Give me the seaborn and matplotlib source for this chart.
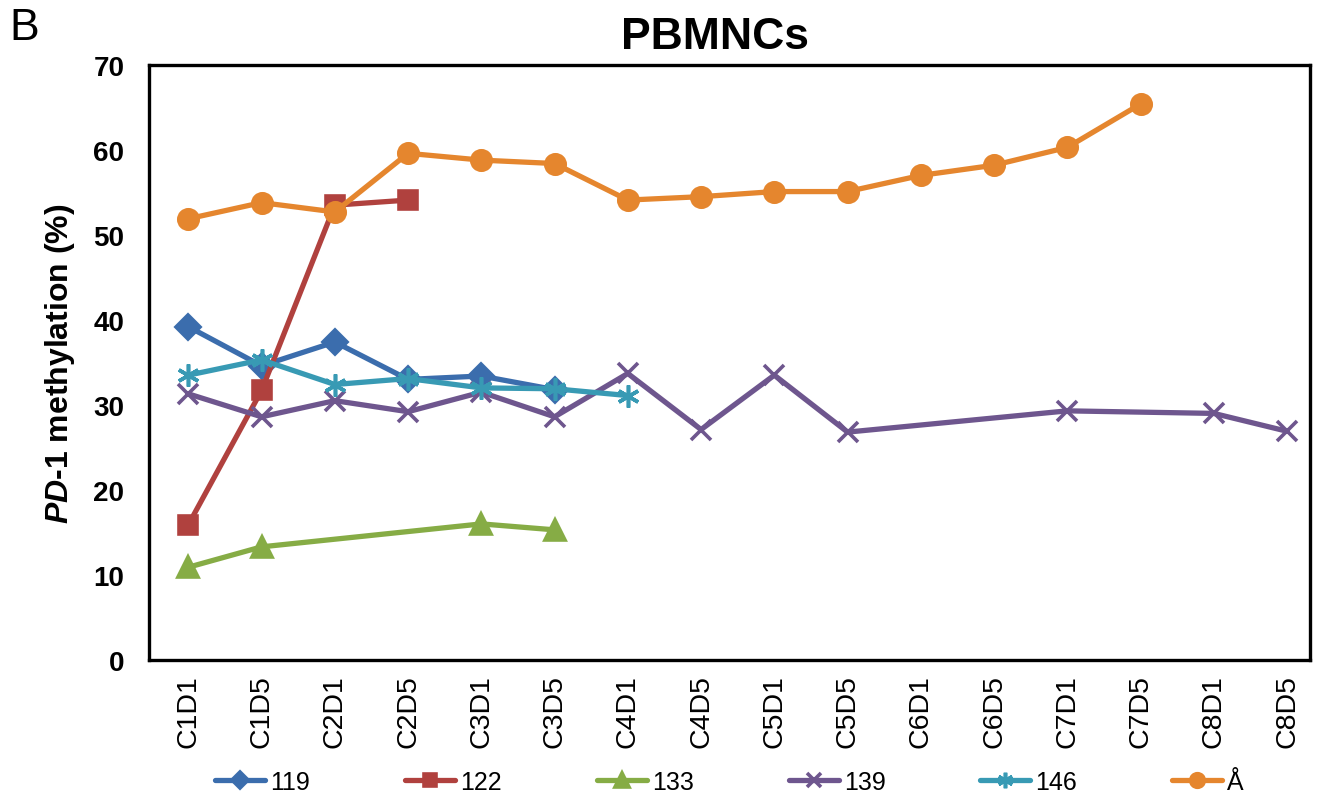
import numpy as np
import pandas as pd
import matplotlib
matplotlib.use('Agg')
import matplotlib.pyplot as plt
import seaborn as sns

cycles = ['C1D1', 'C1D5', 'C2D1', 'C2D5', 'C3D1', 'C3D5', 'C4D1', 'C4D5',
          'C5D1', 'C5D5', 'C6D1', 'C6D5', 'C7D1', 'C7D5', 'C8D1', 'C8D5']
s119 = [39.2, 34.6, 37.4, 33.0, 33.4, 31.8]
s122 = [15.9, 31.7, 53.5, 54.1]
s133 = [10.9, 13.3, None, None, 16.0, 15.3]
s139 = [31.3, 28.6, 30.5, 29.2, 31.5, 28.6, 33.7, 27.1, 33.5, 26.8,
        None, None, 29.3, None, 29.0, 26.9]
s146 = [33.5, 35.3, 32.4, 33.1, 32.0, 31.9, 31.1]
sA = [51.9, 53.8, 52.7, 59.6, 58.8, 58.4, 54.1, 54.5, 55.1, 55.1,
      57.0, 58.2, 60.3, 65.4]

series = {'119': s119, '122': s122, '133': s133, '139': s139, '146': s146, 'Å': sA}
rows = []
for name, vals in series.items():
    for c, v in zip(cycles, vals):
        if v is not None:
            rows.append({'cycle': c, 'value': v, 'patient': name})
df = pd.DataFrame(rows)
df['cycle'] = pd.Categorical(df['cycle'], categories=cycles, ordered=True)
df['pos'] = df['cycle'].cat.codes

palette = {'119': '#3B6DAD', '122': '#B0413E', '133': '#86AC45',
           '139': '#6E568E', '146': '#389AB4', 'Å': '#E5862E'}
markers = {'119': 'D', '122': 's', '133': '^', '139': 'x', '146': (6, 2, 0), 'Å': 'o'}
msizes = {'119': 12, '122': 13, '133': 14, '139': 15, '146': 16, 'Å': 14}

sns.set_style('white')
plt.rcParams['font.family'] = ['Liberation Sans', 'DejaVu Sans']
plt.rcParams['text.color'] = 'black'
plt.rcParams['axes.labelcolor'] = 'black'
plt.rcParams['mathtext.fontset'] = 'custom'
plt.rcParams['mathtext.it'] = 'Liberation Sans:italic:bold'
plt.rcParams['mathtext.rm'] = 'Liberation Sans:bold'

fig = plt.figure(figsize=(13.23, 8.04), dpi=100)
ax = fig.add_axes([0.113, 0.178, 0.877, 0.740])

# one call per patient: filled and line-art markers can't share a style mapping
for name in series:
    sub = df[df['patient'] == name]
    sns.lineplot(data=sub, x='pos', y='value', color=palette[name],
                 marker=markers[name], markersize=msizes[name],
                 markeredgewidth=2.6, markeredgecolor=palette[name],
                 linewidth=3.8, label=name, sort=True, ax=ax)

ax.set_xticks(range(len(cycles)))
ax.set_xticklabels(cycles, rotation=90, fontsize=20.5)
ax.set_xlim(-0.53, 15.31)
ax.set_ylim(0, 70)
ax.set_yticks(range(0, 71, 10))
for lab in ax.get_yticklabels():
    lab.set_fontweight('bold')
    lab.set_fontsize(20)
ax.set_xlabel('')
ax.set_ylabel(r'$\mathit{PD}$' + '-' + r'$\mathit{1}$' + ' methylation (%)',
              fontsize=23, fontweight='bold', labelpad=12)
ax.set_title('PBMNCs', fontsize=32, fontweight='bold', pad=12, color='black', x=0.487)

for sp in ax.spines.values():
    sp.set_linewidth(2.4)
    sp.set_color('black')
ax.tick_params(direction='out', length=8, width=2.4, colors='black')
ax.tick_params(axis='y', pad=10)
ax.tick_params(axis='x', pad=2)

leg = ax.legend(loc='center', bbox_to_anchor=(0.5, -0.205), ncol=6, frameon=False,
                fontsize=18, handlelength=2.0, handletextpad=0.2,
                columnspacing=3.8, markerscale=0.7)

fig.text(0.007, 0.99, 'B', fontsize=32, va='top', ha='left')

fig.savefig('out.png', dpi=100)
